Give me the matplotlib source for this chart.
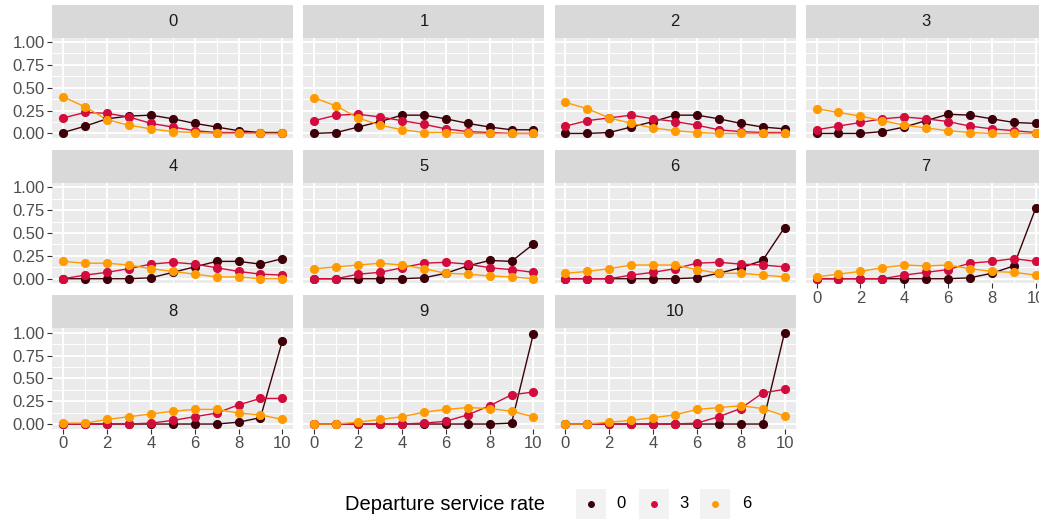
import matplotlib
matplotlib.use("Agg")
import matplotlib.pyplot as plt
from matplotlib.lines import Line2D
from matplotlib.patches import Rectangle
import numpy as np

plt.rcParams['font.family'] = ['Liberation Sans', 'DejaVu Sans']

# Arrival level (x axis) and facet ids
levels = list(range(11))
facets = list(range(11))
rates = ["0", "3", "6"]
colors = ["#3D0008", "#D20C3C", "#FF9B00"]

# Probability per facet, one list per departure service rate
dep_0 = [
    [0.01, 0.08, 0.16, 0.19, 0.20, 0.16, 0.11, 0.07, 0.03, 0.01, 0.01],
    [0.00, 0.01, 0.07, 0.13, 0.20, 0.20, 0.16, 0.11, 0.07, 0.04, 0.04],
    [0.00, 0.00, 0.01, 0.07, 0.13, 0.20, 0.20, 0.16, 0.11, 0.07, 0.05],
    [0.00, 0.00, 0.00, 0.02, 0.07, 0.14, 0.21, 0.20, 0.16, 0.12, 0.11],
    [0.00, 0.00, 0.00, 0.00, 0.01, 0.07, 0.13, 0.19, 0.19, 0.16, 0.22],
    [0.00, 0.00, 0.00, 0.00, 0.00, 0.01, 0.06, 0.14, 0.20, 0.19, 0.38],
    [0.00, 0.00, 0.00, 0.00, 0.00, 0.00, 0.01, 0.06, 0.12, 0.20, 0.56],
    [0.00, 0.00, 0.00, 0.00, 0.00, 0.00, 0.00, 0.01, 0.06, 0.14, 0.77],
    [0.00, 0.00, 0.00, 0.00, 0.00, 0.00, 0.00, 0.00, 0.02, 0.07, 0.91],
    [0.00, 0.00, 0.00, 0.00, 0.00, 0.00, 0.00, 0.00, 0.00, 0.01, 0.99],
    [0.00, 0.00, 0.00, 0.00, 0.00, 0.00, 0.00, 0.00, 0.00, 0.00, 1.00],
]
dep_3 = [
    [0.17, 0.23, 0.22, 0.18, 0.11, 0.07, 0.03, 0.01, 0.01, 0.00, 0.00],
    [0.14, 0.20, 0.21, 0.18, 0.14, 0.10, 0.05, 0.02, 0.01, 0.00, 0.00],
    [0.08, 0.14, 0.17, 0.20, 0.16, 0.13, 0.09, 0.04, 0.02, 0.01, 0.01],
    [0.04, 0.08, 0.12, 0.16, 0.18, 0.16, 0.13, 0.08, 0.05, 0.03, 0.01],
    [0.00, 0.04, 0.07, 0.11, 0.16, 0.18, 0.16, 0.12, 0.08, 0.05, 0.04],
    [0.00, 0.00, 0.05, 0.07, 0.12, 0.17, 0.18, 0.16, 0.12, 0.10, 0.07],
    [0.00, 0.00, 0.00, 0.04, 0.07, 0.11, 0.17, 0.18, 0.16, 0.15, 0.13],
    [0.00, 0.00, 0.00, 0.00, 0.04, 0.07, 0.10, 0.17, 0.19, 0.22, 0.19],
    [0.00, 0.00, 0.00, 0.00, 0.01, 0.04, 0.08, 0.12, 0.21, 0.28, 0.28],
    [0.00, 0.00, 0.00, 0.00, 0.00, 0.01, 0.03, 0.10, 0.20, 0.32, 0.35],
    [0.00, 0.00, 0.00, 0.00, 0.00, 0.00, 0.01, 0.08, 0.17, 0.34, 0.38],
]
dep_6 = [
    [0.40, 0.29, 0.15, 0.09, 0.05, 0.02, 0.01, 0.00, 0.00, 0.00, 0.00],
    [0.39, 0.30, 0.17, 0.09, 0.04, 0.01, 0.01, 0.00, 0.00, 0.00, 0.00],
    [0.34, 0.27, 0.17, 0.11, 0.06, 0.03, 0.01, 0.00, 0.00, 0.00, 0.00],
    [0.27, 0.23, 0.19, 0.14, 0.09, 0.06, 0.03, 0.01, 0.00, 0.00, 0.00],
    [0.19, 0.17, 0.17, 0.15, 0.11, 0.08, 0.05, 0.02, 0.02, 0.00, 0.00],
    [0.11, 0.13, 0.15, 0.17, 0.15, 0.11, 0.06, 0.05, 0.03, 0.02, 0.00],
    [0.06, 0.08, 0.11, 0.15, 0.15, 0.15, 0.10, 0.06, 0.06, 0.04, 0.02],
    [0.02, 0.05, 0.08, 0.12, 0.15, 0.14, 0.15, 0.11, 0.08, 0.07, 0.04],
    [0.01, 0.01, 0.05, 0.08, 0.11, 0.14, 0.16, 0.16, 0.12, 0.10, 0.05],
    [0.00, 0.00, 0.02, 0.05, 0.08, 0.13, 0.16, 0.18, 0.17, 0.14, 0.08],
    [0.00, 0.00, 0.02, 0.04, 0.07, 0.10, 0.16, 0.18, 0.20, 0.17, 0.09],
]
series = [dep_0, dep_3, dep_6]

W, H = 1039, 523
fig = plt.figure(figsize=(W / 100, H / 100), dpi=100)
fig.patch.set_facecolor("white")

ncol = 4
col_x0 = 52.3
col_step = 251.1
panel_w = 241.0
row_top0 = 37.5
row_step = 145.3
panel_h = 100.5
strip_h = 33.0

for k in facets:
    r, c = divmod(k, ncol)
    left = col_x0 + c * col_step
    top = row_top0 + r * row_step
    ax = fig.add_axes([left / W, 1 - (top + panel_h) / H, panel_w / W, panel_h / H])
    ax.set_facecolor("#EBEBEB")
    ax.set_xlim(-0.5, 10.5)
    ax.set_ylim(-0.05, 1.05)
    ax.set_xticks([0, 2, 4, 6, 8, 10])
    ax.set_xticks([1, 3, 5, 7, 9], minor=True)
    ax.set_yticks([0, 0.25, 0.5, 0.75, 1.0])
    ax.set_yticks([0.125, 0.375, 0.625, 0.875], minor=True)
    ax.grid(which="major", color="white", linewidth=1.4)
    ax.grid(which="minor", color="white", linewidth=0.7)
    ax.set_axisbelow(True)
    for s in ax.spines.values():
        s.set_visible(False)
    ax.tick_params(which="minor", length=0)
    ax.tick_params(which="major", length=3.5, width=0.8, color="#333333",
                   labelsize=12, labelcolor="#4D4D4D", pad=2)

    show_x = (k + ncol) >= len(facets)
    show_y = c == 0
    if not show_x:
        ax.tick_params(axis="x", which="major", length=0, labelbottom=False)
    if show_y:
        ax.set_yticklabels(["0.00", "0.25", "0.50", "0.75", "1.00"])
    else:
        ax.tick_params(axis="y", which="major", length=0, labelleft=False)

    for vals, col in zip(series, colors):
        ax.plot(levels, vals[k], color=col, linewidth=1.0, zorder=2)
    for vals, col in zip(series, colors):
        ax.plot(levels, vals[k], linestyle="none", marker="o", markersize=6.6,
                color=col, markeredgewidth=0, zorder=3)

    # facet strip
    sax = fig.add_axes([left / W, 1 - top / H, panel_w / W, strip_h / H])
    sax.set_facecolor("#D9D9D9")
    sax.set_xticks([])
    sax.set_yticks([])
    for s in sax.spines.values():
        s.set_visible(False)
    sax.text(0.5, 0.5, str(k), ha="center", va="center", fontsize=12,
             color="#1A1A1A", transform=sax.transAxes)

# legend at the bottom
ly = 504
fig.text(345 / W, 1 - ly / H, "Departure service rate", ha="left", va="center",
         fontsize=14.5, color="black")
key_left = [576, 639, 700]
label_x = [621, 684, 747]
for kx, lx, lab, col in zip(key_left, label_x, rates, colors):
    fig.add_artist(Rectangle((kx / W, 1 - 519 / H), 30 / W, 30 / H,
                             transform=fig.transFigure, facecolor="#F2F2F2",
                             edgecolor="none"))
    fig.add_artist(Line2D([(kx + 15) / W], [1 - ly / H], marker="o",
                          markersize=5, color=col, markeredgewidth=0,
                          linestyle="none", transform=fig.transFigure))
    fig.text(lx / W, 1 - ly / H, lab, ha="center", va="center", fontsize=12,
             color="black")

fig.savefig("out.png", dpi=100)
